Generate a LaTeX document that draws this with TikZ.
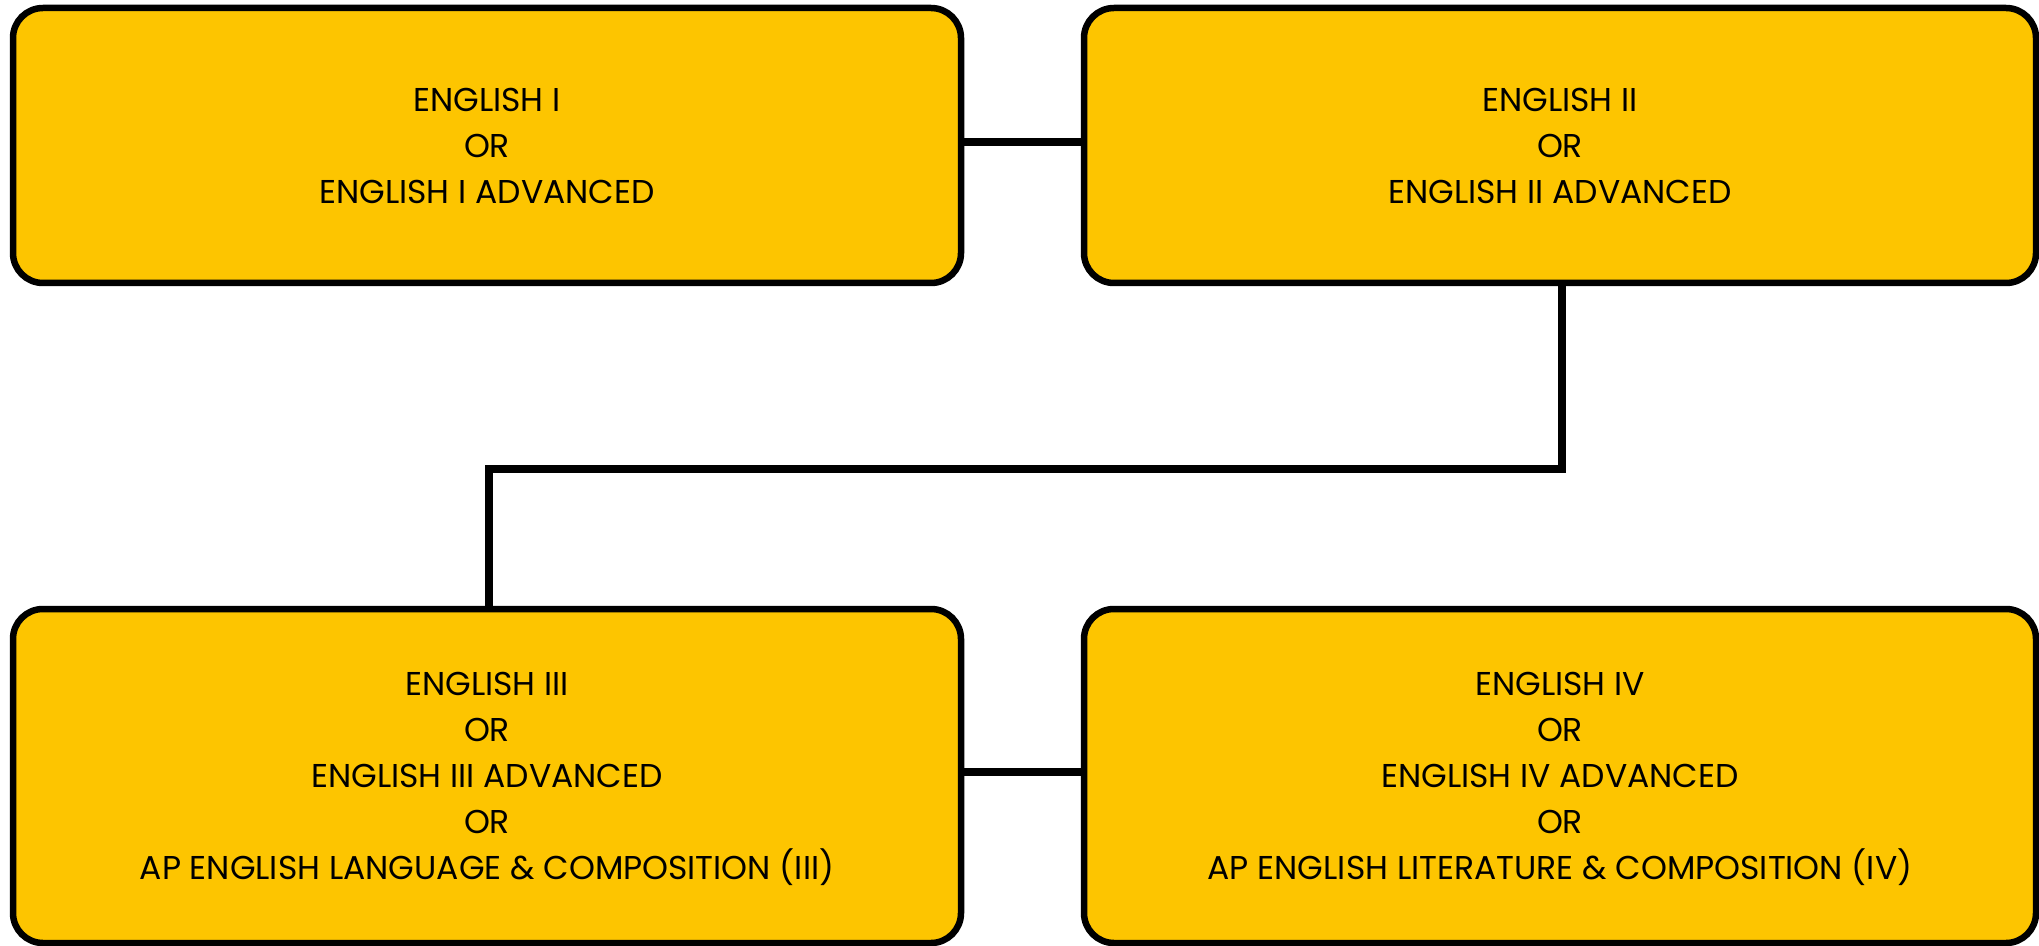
\documentclass[tikz,border=0pt]{standalone}
\usepackage{fontspec}
\setmainfont{Poppins}
\definecolor{boxyellow}{HTML}{FDC500}
\tikzset{
  coursebox/.style={draw=black, fill=boxyellow, line width=3.25pt, rounded corners=15pt,
    align=center, inner sep=0pt, font=\fontsize{16.5pt}{23pt}\selectfont},
  link/.style={draw=black, line width=3.75pt, line join=miter}
}
\begin{document}
\begin{tikzpicture}[x=0.5pt,y=-0.5pt]
\useasboundingbox (0,0) rectangle (2039,946);
\node[coursebox, minimum width=474pt, minimum height=137.5pt] (b1) at (487,145.5)
  {ENGLISH I\\OR\\ENGLISH I ADVANCED};
\node[coursebox, minimum width=476pt, minimum height=137.5pt] (b2) at (1560,145.5)
  {ENGLISH II\\OR\\ENGLISH II ADVANCED};
\node[coursebox, minimum width=474pt, minimum height=167pt] (b3) at (487,776)
  {ENGLISH III\\OR\\ENGLISH III ADVANCED\\OR\\AP ENGLISH LANGUAGE \& COMPOSITION \smash{(III)}};
\node[coursebox, minimum width=476pt, minimum height=167pt] (b4) at (1560,776)
  {ENGLISH IV\\OR\\ENGLISH IV ADVANCED\\OR\\AP ENGLISH LITERATURE \& COMPOSITION \smash{(IV)}};
\coordinate (j1) at (1562,469);
\coordinate (j2) at (489,469);
\draw[link] ([yshift=1.75pt]b1.east) -- ([yshift=1.75pt]b2.west);
\draw[link] (b2.south -| j1) -- (j1) -- (j2) -- (j2 |- b3.north);
\draw[link] ([yshift=2pt]b3.east) -- ([yshift=2pt]b4.west);
\end{tikzpicture}
\end{document}
